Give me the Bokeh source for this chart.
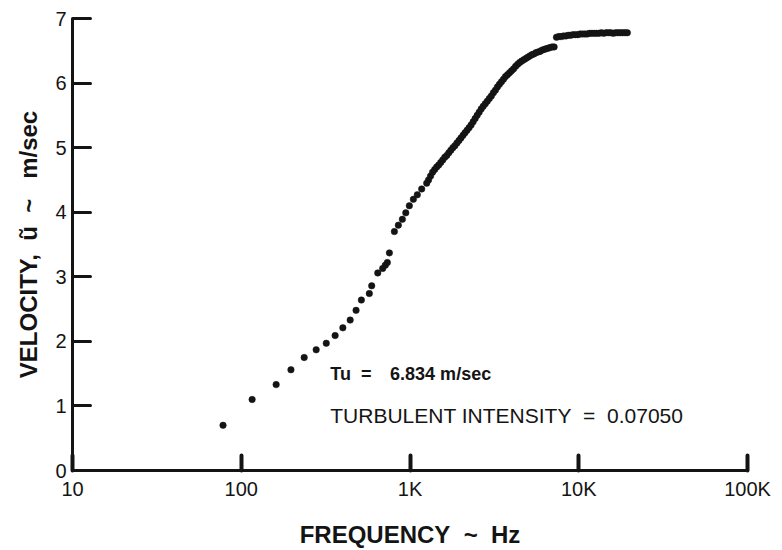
from bokeh.plotting import figure
from bokeh.models import FixedTicker, Label, Range1d
from bokeh.embed import file_html
from bokeh.resources import INLINE

# ---- data ----
freq_sparse = [78, 116, 161, 197, 236, 278, 319, 360, 400, 442, 479, 515, 574, 593,
               644, 689, 714, 734, 755, 808, 853, 901, 944, 991, 1047, 1105, 1173, 1256]
vel_sparse = [0.70, 1.10, 1.33, 1.56, 1.75, 1.87, 1.97, 2.09, 2.21, 2.33, 2.48, 2.64, 2.74, 2.86,
              3.06, 3.13, 3.18, 3.22, 3.37, 3.70, 3.80, 3.89, 3.99, 4.10, 4.20, 4.27, 4.36, 4.45]

freq_dense = [1288, 1324, 1361, 1400, 1439, 1479, 1521, 1563, 1607, 1652, 1698, 1746, 1795, 1845,
              1897, 1950, 2004, 2061, 2118, 2178, 2239, 2301, 2366, 2432, 2500, 2570, 2642, 2716,
              2793, 2871, 2951, 3034, 3119, 3206, 3296, 3388, 3483, 3581, 3681, 3784, 3890, 3999,
              4111, 4227, 4345, 4467, 4592, 4721, 4853, 4989, 5129, 5272, 5420, 5572, 5728, 5888,
              6053, 6223, 6397, 6577, 6761, 6950, 7145]
vel_dense = [4.50, 4.56, 4.62, 4.66, 4.70, 4.73, 4.77, 4.81, 4.85, 4.88, 4.92, 4.96, 5.00, 5.03,
             5.07, 5.11, 5.15, 5.19, 5.23, 5.27, 5.31, 5.35, 5.40, 5.45, 5.50, 5.55, 5.60, 5.64,
             5.68, 5.72, 5.76, 5.80, 5.85, 5.89, 5.94, 5.98, 6.02, 6.06, 6.10, 6.13, 6.16, 6.19,
             6.22, 6.26, 6.29, 6.32, 6.34, 6.36, 6.38, 6.40, 6.42, 6.44, 6.45, 6.47, 6.48, 6.49,
             6.51, 6.52, 6.53, 6.54, 6.55, 6.56, 6.56]

freq_plateau = [7379, 7621, 7870, 8128, 8395, 8670, 8954, 9247, 9550, 9863, 10186, 10520, 10864,
                11220, 11588, 11967, 12359, 12764, 13183, 13614, 14060, 14521, 14997, 15488,
                15996, 16520, 17061, 17620, 18197, 18793, 19409]
vel_plateau = [6.71, 6.72, 6.72, 6.73, 6.73, 6.74, 6.74, 6.75, 6.75, 6.75, 6.76, 6.76, 6.76,
               6.76, 6.77, 6.77, 6.77, 6.77, 6.77, 6.78, 6.77, 6.78, 6.78, 6.78, 6.77, 6.78,
               6.78, 6.78, 6.78, 6.78, 6.78]

x_ticks = [10, 100, 1000, 10000, 100000]
x_tick_labels = ["10", "100", "1K", "10K", "100K"]
y_ticks = [0, 1, 2, 3, 4, 5, 6, 7]

FONT = "Liberation Sans"
INK = "#141414"
NB = "\u00a0"

p = figure(width=782, height=550, x_axis_type="log",
           x_range=Range1d(10, 100000), y_range=Range1d(0, 7),
           output_backend="svg", toolbar_location=None,
           min_border_left=72, min_border_right=35, min_border_top=18, min_border_bottom=80)

p.outline_line_color = None
p.xgrid.visible = False
p.ygrid.visible = False
p.background_fill_color = "white"
p.border_fill_color = "white"

for fx, fy in [(freq_sparse, vel_sparse), (freq_dense, vel_dense), (freq_plateau, vel_plateau)]:
    p.scatter(fx, fy, size=6.5, fill_color=INK, line_color=INK, line_width=0.5)

# x axis
p.xaxis.ticker = FixedTicker(ticks=x_ticks)
p.xaxis.major_label_overrides = {t: l for t, l in zip(x_ticks, x_tick_labels)}
p.xaxis.minor_tick_line_color = None
p.xaxis.major_tick_in = 15
p.xaxis.major_tick_out = 0
p.xaxis.major_tick_line_width = 4
p.xaxis.major_tick_line_cap = "round"
p.xaxis.axis_line_width = 3
p.xaxis.axis_line_color = INK
p.xaxis.major_tick_line_color = INK
p.xaxis.major_label_text_font = FONT
p.xaxis.major_label_text_font_size = "20px"
p.xaxis.major_label_text_color = INK
p.xaxis.major_label_standoff = 7
p.xaxis.axis_label = "FREQUENCY" + NB * 2 + "~" + NB * 2 + "Hz"
p.xaxis.axis_label_text_font = FONT
p.xaxis.axis_label_text_font_style = "bold"
p.xaxis.axis_label_text_font_size = "24px"
p.xaxis.axis_label_text_color = INK
p.xaxis.axis_label_standoff = 18

# y axis
p.yaxis.ticker = FixedTicker(ticks=y_ticks)
p.yaxis.minor_tick_line_color = None
p.yaxis.major_tick_in = 18
p.yaxis.major_tick_out = 0
p.yaxis.major_tick_line_width = 3
p.yaxis.major_tick_line_cap = "round"
p.yaxis.axis_line_width = 3
p.yaxis.axis_line_color = INK
p.yaxis.major_tick_line_color = INK
p.yaxis.major_label_text_font = FONT
p.yaxis.major_label_text_font_size = "20px"
p.yaxis.major_label_text_color = INK
p.yaxis.major_label_standoff = 6
p.yaxis.axis_label = "VELOCITY," + NB * 2 + "ũ" + NB * 2 + "~" + NB * 3 + "m/sec"
p.yaxis.axis_label_text_font = FONT
p.yaxis.axis_label_text_font_style = "bold"
p.yaxis.axis_label_text_font_size = "24px"
p.yaxis.axis_label_text_color = INK
p.yaxis.axis_label_standoff = 10

# annotations
p.add_layout(Label(x=337, y=1.50, text="Tu" + NB * 2 + "=", text_font=FONT, text_font_size="18px",
                   text_font_style="bold", text_color=INK, text_baseline="alphabetic"))
p.add_layout(Label(x=762, y=1.50, text="6.834 m/sec", text_font=FONT, text_font_size="18px",
                   text_font_style="bold", text_color=INK, text_baseline="alphabetic"))
p.add_layout(Label(x=337, y=0.85, text="TURBULENT INTENSITY" + NB * 2 + "=" + NB * 2 + "0.07050",
                   text_font=FONT, text_font_size="21px", text_color=INK,
                   text_baseline="alphabetic"))

open("out.html", "w").write(file_html(p, INLINE))
